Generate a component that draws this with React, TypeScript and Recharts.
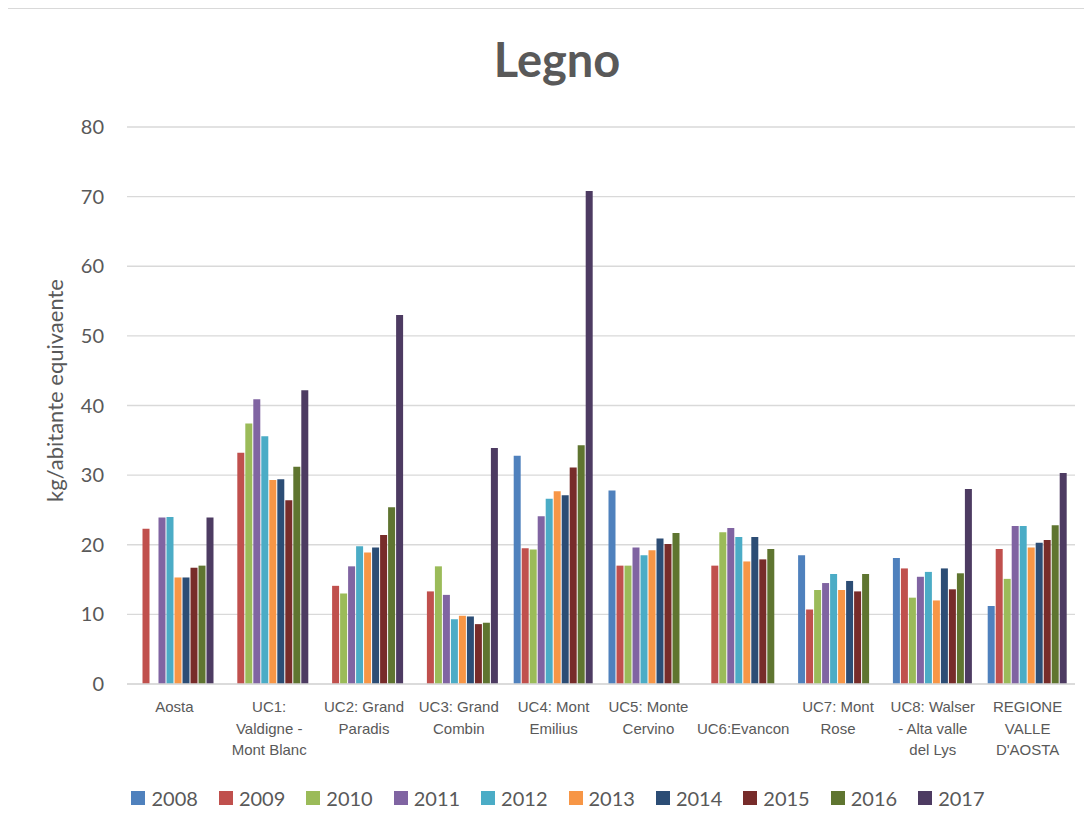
import { Bar, BarChart, CartesianGrid, Legend, XAxis, YAxis } from "recharts";

// categorie (a capo come nel grafico originale)
const CATEGORIES = [
  "Aosta",
  "UC1:\nValdigne -\nMont Blanc",
  "UC2: Grand\nParadis",
  "UC3: Grand\nCombin",
  "UC4: Mont\nEmilius",
  "UC5: Monte\nCervino",
  "\nUC6:Evancon",
  "UC7: Mont\nRose",
  "UC8: Walser\n- Alta valle\ndel Lys",
  "REGIONE\nVALLE\nD'AOSTA",
];

const YEARS = ["2008", "2009", "2010", "2011", "2012", "2013", "2014", "2015", "2016", "2017"];

const Y2008 = [null, null, null, null, 32.8, 27.8, null, 18.5, 18.1, 11.2];
const Y2009 = [22.3, 33.2, 14.1, 13.3, 19.5, 17.0, 17.0, 10.7, 16.6, 19.4];
const Y2010 = [null, 37.4, 13.0, 16.9, 19.3, 17.0, 21.8, 13.5, 12.4, 15.1];
const Y2011 = [23.9, 40.9, 16.9, 12.8, 24.1, 19.6, 22.4, 14.5, 15.4, 22.7];
const Y2012 = [24.0, 35.6, 19.8, 9.3, 26.6, 18.5, 21.1, 15.8, 16.1, 22.7];
const Y2013 = [15.3, 29.3, 18.9, 9.8, 27.7, 19.2, 17.6, 13.5, 12.0, 19.6];
const Y2014 = [15.3, 29.4, 19.6, 9.7, 27.1, 20.9, 21.1, 14.8, 16.6, 20.3];
const Y2015 = [16.7, 26.4, 21.4, 8.6, 31.1, 20.1, 17.9, 13.3, 13.6, 20.7];
const Y2016 = [17.0, 31.2, 25.4, 8.8, 34.3, 21.7, 19.4, 15.8, 15.9, 22.8];
const Y2017 = [23.9, 42.2, 53.0, 33.9, 70.8, null, null, null, 28.0, 30.3];

const Y_TICKS = [0, 10, 20, 30, 40, 50, 60, 70, 80];

const SERIES_VALUES = [Y2008, Y2009, Y2010, Y2011, Y2012, Y2013, Y2014, Y2015, Y2016, Y2017];

const COLORS = [
  "#4F81BD",
  "#C0504D",
  "#9BBB59",
  "#8064A2",
  "#4BACC6",
  "#F79646",
  "#2C4D75",
  "#772C2A",
  "#5F7530",
  "#4D3B62",
];

const data = CATEGORIES.map((category, i) => {
  const row: Record<string, string | number | null> = { category };
  YEARS.forEach((year, s) => {
    row[year] = SERIES_VALUES[s][i];
  });
  return row;
});

const TEXT = "#595959";
const GRID = "#d9d9d9";

function CategoryTick({ x, y, payload }: any) {
  const lines = String(payload.value).split("\n");
  return (
    <g>
      {lines.map((line, i) => (
        <text
          key={i}
          x={x}
          y={y + 28 + i * 21.7}
          textAnchor="middle"
          fill={TEXT}
          fontSize={15}
          fontFamily="'Liberation Sans', Arial, sans-serif"
        >
          {line}
        </text>
      ))}
    </g>
  );
}

function LegendContent({ payload }: any) {
  return (
    <div style={{ display: "flex", justifyContent: "center", alignItems: "center", gap: 21, height: 30 }}>
      {(payload || []).map((item: any) => (
        <div key={item.value} style={{ display: "flex", alignItems: "center" }}>
          <span style={{ width: 14, height: 14, background: item.color, display: "inline-block", marginRight: 6 }} />
          <span style={{ fontFamily: "Lato, sans-serif", fontSize: 20, color: TEXT }}>{item.value}</span>
        </div>
      ))}
    </div>
  );
}

export default function App() {
  return (
    <div
      style={{
        position: "relative",
        marginLeft: -1,
        width: 1084,
        height: 815,
        overflow: "hidden",
        borderTop: `1px solid ${GRID}`,
        borderLeft: `1px solid ${GRID}`,
        background: "#fff",
      }}
    >
      <div
        style={{
          position: "absolute",
          top: 27,
          left: 0,
          width: 1098,
          textAlign: "center",
          fontFamily: "Lato, sans-serif",
          fontWeight: 700,
          fontSize: 47,
          lineHeight: 1,
          color: TEXT,
          zIndex: 1,
        }}
      >
        Legno
      </div>
      <BarChart
        width={1100}
        height={815}
        data={data}
        margin={{ top: 118, right: 33, left: 49, bottom: 11 }}
        barCategoryGap={7.5}
        barGap={1}
      >
        <CartesianGrid vertical={false} stroke={GRID} strokeWidth={1.3} />
        <XAxis
          dataKey="category"
          interval={0}
          height={99}
          tickLine={false}
          tickSize={0}
          tickMargin={0}
          axisLine={{ stroke: GRID, strokeWidth: 1.3 }}
          tick={<CategoryTick />}
        />
        <YAxis
          width={70}
          domain={[0, 80]}
          ticks={Y_TICKS}
          interval={0}
          tickLine={false}
          axisLine={false}
          tickSize={0}
          tickMargin={23}
          tick={{ fill: TEXT, fontSize: 20, fontFamily: "Lato, sans-serif" }}
          label={{
            content: ({ viewBox }: any) => {
              const cx = viewBox.x - 3;
              const cy = viewBox.y + viewBox.height / 2 - 15;
              return (
                <text
                  x={cx}
                  y={cy}
                  transform={`rotate(-90 ${cx} ${cy})`}
                  textAnchor="middle"
                  dominantBaseline="central"
                  fill={TEXT}
                  fontSize={22}
                  fontFamily="Lato, sans-serif"
                >
                  kg/abitante equivaente
                </text>
              );
            },
          }}
        />
        <Legend
          verticalAlign="bottom"
          align="center"
          wrapperStyle={{ left: 0, width: 1100 }}
          content={<LegendContent />}
        />
        {YEARS.map((year, s) => (
          <Bar key={year} dataKey={year} name={year} fill={COLORS[s]} isAnimationActive={false} />
        ))}
      </BarChart>
    </div>
  );
}
